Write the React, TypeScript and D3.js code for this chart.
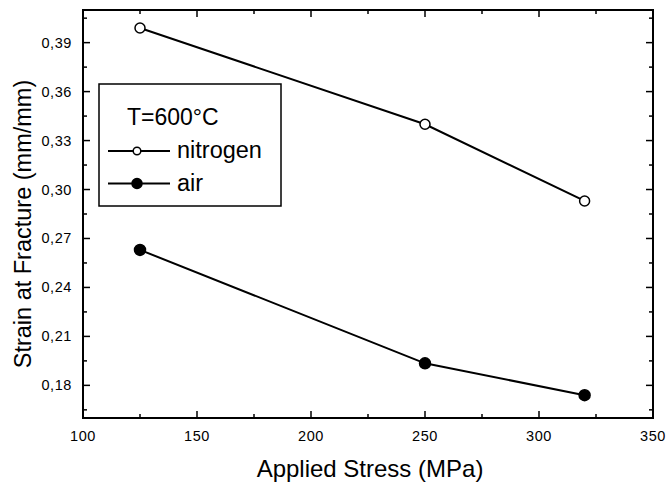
import React from "react";
import * as d3 from "d3";

const stress = [125, 250, 320];
const nitrogen = [0.399, 0.340, 0.293];
const air = [0.263, 0.1935, 0.174];
const xTicks = [100, 150, 200, 250, 300, 350];
const yTicks = [0.18, 0.21, 0.24, 0.27, 0.30, 0.33, 0.36, 0.39];
const legendTitle = "T=600°C";
const seriesNames = ["nitrogen", "air"];

const W = 668, H = 484;
const L = 83, R = 653, T = 10, B = 418;

export default function App() {
  const x = d3.scaleLinear().domain([100, 350]).range([L, R]);
  const y = d3.scaleLinear().domain([0.16, 0.41]).range([B, T]);
  const line = d3.line<number>().x((_, i) => x(stress[i])).y((d) => y(d));
  const xMinor = d3.range(100, 351, 25).filter((v) => !xTicks.includes(v));
  const yMinor = yTicks.map((v) => v - 0.015).concat([0.405]).filter((v) => v > 0.16 && v < 0.41);
  const fmt = (v: number) => d3.format(".2f")(v).replace(".", ",");
  const font = "Liberation Sans, Arial, sans-serif";
  const series = [
    { name: seriesNames[0], data: nitrogen, fill: "#fff", r: 5, lr: 3.8 },
    { name: seriesNames[1], data: air, fill: "#000", r: 5.5, lr: 5 },
  ];
  return (
    <svg width={W} height={H} style={{ position: "absolute", left: 0, top: 0, background: "#fff" }} fontFamily={font}>
      <rect x={0} y={0} width={W} height={H} fill="#fff" />
      {/* ticks */}
      {xTicks.map((v) => (
        <g key={"xt" + v}>
          <line x1={x(v)} x2={x(v)} y1={B} y2={B - 7} stroke="#000" strokeWidth={1.5} />
          <line x1={x(v)} x2={x(v)} y1={T} y2={T + 7} stroke="#000" strokeWidth={1.5} />
          <text x={x(v)} y={441} textAnchor="middle" fontSize={14.5} letterSpacing={0.6}>{v}</text>
        </g>
      ))}
      {xMinor.map((v) => (
        <g key={"xm" + v}>
          <line x1={x(v)} x2={x(v)} y1={B} y2={B - 4} stroke="#000" strokeWidth={1.5} />
          <line x1={x(v)} x2={x(v)} y1={T} y2={T + 4} stroke="#000" strokeWidth={1.5} />
        </g>
      ))}
      {yTicks.map((v) => (
        <g key={"yt" + v}>
          <line x1={L} x2={L + 7} y1={y(v)} y2={y(v)} stroke="#000" strokeWidth={1.5} />
          <line x1={R} x2={R - 7} y1={y(v)} y2={y(v)} stroke="#000" strokeWidth={1.5} />
          <text x={72} y={y(v) + 5} textAnchor="end" fontSize={14.5} letterSpacing={0.6}>{fmt(v)}</text>
        </g>
      ))}
      {yMinor.map((v) => (
        <g key={"ym" + v}>
          <line x1={L} x2={L + 4} y1={y(v)} y2={y(v)} stroke="#000" strokeWidth={1.5} />
          <line x1={R} x2={R - 4} y1={y(v)} y2={y(v)} stroke="#000" strokeWidth={1.5} />
        </g>
      ))}
      <rect x={L} y={T} width={R - L} height={B - T} fill="none" stroke="#000" strokeWidth={2} />
      {/* series */}
      {series.map((s) => (
        <g key={s.name}>
          <path d={line(s.data) || ""} fill="none" stroke="#000" strokeWidth={2} />
          {s.data.map((d, i) => (
            <circle key={i} cx={x(stress[i])} cy={y(d)} r={s.r} fill={s.fill} stroke="#000" strokeWidth={1.5} />
          ))}
        </g>
      ))}
      {/* legend */}
      <rect x={99} y={84} width={182} height={122} fill="#fff" stroke="#000" strokeWidth={1.5} />
      <text x={127} y={125} fontSize={23}>{legendTitle}</text>
      {series.map((s, i) => {
        const ly = 151 + i * 32.5;
        return (
          <g key={"lg" + s.name}>
            <line x1={108} x2={170} y1={ly} y2={ly} stroke="#000" strokeWidth={2} />
            <circle cx={137} cy={ly} r={s.lr} fill={s.fill} stroke="#000" strokeWidth={1.5} />
            <text x={177} y={ly + 7} fontSize={23.5}>{s.name}</text>
          </g>
        );
      })}
      {/* axis titles */}
      <text x={370} y={477} textAnchor="middle" fontSize={24}>Applied Stress (MPa)</text>
      <text transform={`translate(31,224) rotate(-90)`} textAnchor="middle" fontSize={23.5}>Strain at Fracture (mm/mm)</text>
    </svg>
  );
}
